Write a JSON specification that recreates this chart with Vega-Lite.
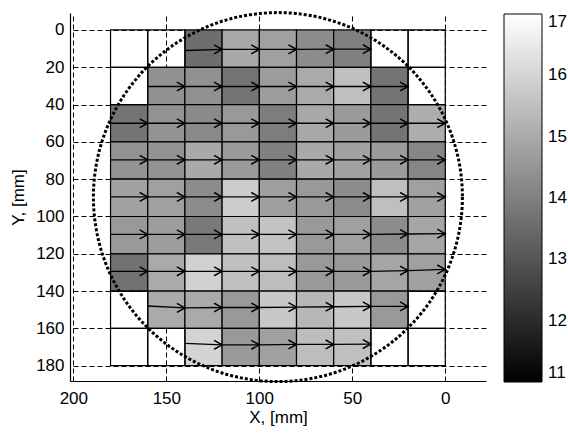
{
  "$schema": "https://vega.github.io/schema/vega-lite/v6.json",
  "width": 416,
  "height": 368,
  "autosize": {"type": "none"},
  "padding": {"left": 70, "top": 13, "right": 82, "bottom": 53},
  "background": "white",
  "config": {
    "view": {"stroke": null},
    "font": "Liberation Sans",
    "axis": {
      "grid": true, "gridColor": "#000000", "gridDash": [5, 3], "gridWidth": 1, "gridOpacity": 1,
      "domainColor": "#000000", "domainWidth": 1.2, "ticks": false,
      "labelFontSize": 17, "labelColor": "#000000", "labelFont": "Liberation Sans",
      "titleFontSize": 17, "titleFontWeight": "normal", "titleColor": "#000000", "titleFont": "Liberation Sans",
      "labelFlush": false, "labelOverlap": false
    }
  },
  "datasets": {
    "cells": [
      {"x0":180,"x1":160,"y0":0,"y1":20,"v":null},{"x0":160,"x1":140,"y0":0,"y1":20,"v":null},{"x0":140,"x1":120,"y0":0,"y1":20,"v":13.59},{"x0":120,"x1":100,"y0":0,"y1":20,"v":14.95},{"x0":100,"x1":80,"y0":0,"y1":20,"v":14.76},{"x0":80,"x1":60,"y0":0,"y1":20,"v":14.29},{"x0":60,"x1":40,"y0":0,"y1":20,"v":14.01},{"x0":40,"x1":20,"y0":0,"y1":20,"v":null},{"x0":20,"x1":0,"y0":0,"y1":20,"v":null},
      {"x0":180,"x1":160,"y0":20,"y1":40,"v":null},{"x0":160,"x1":140,"y0":20,"y1":40,"v":14.4},{"x0":140,"x1":120,"y0":20,"y1":40,"v":14.4},{"x0":120,"x1":100,"y0":20,"y1":40,"v":13.72},{"x0":100,"x1":80,"y0":20,"y1":40,"v":14.68},{"x0":80,"x1":60,"y0":20,"y1":40,"v":15.0},{"x0":60,"x1":40,"y0":20,"y1":40,"v":15.5},{"x0":40,"x1":20,"y0":20,"y1":40,"v":13.72},{"x0":20,"x1":0,"y0":20,"y1":40,"v":null},
      {"x0":180,"x1":160,"y0":40,"y1":60,"v":13.72},{"x0":160,"x1":140,"y0":40,"y1":60,"v":14.45},{"x0":140,"x1":120,"y0":40,"y1":60,"v":14.25},{"x0":120,"x1":100,"y0":40,"y1":60,"v":14.6},{"x0":100,"x1":80,"y0":40,"y1":60,"v":13.94},{"x0":80,"x1":60,"y0":40,"y1":60,"v":14.95},{"x0":60,"x1":40,"y0":40,"y1":60,"v":14.65},{"x0":40,"x1":20,"y0":40,"y1":60,"v":13.72},{"x0":20,"x1":0,"y0":40,"y1":60,"v":15.07},
      {"x0":180,"x1":160,"y0":60,"y1":80,"v":14.45},{"x0":160,"x1":140,"y0":60,"y1":80,"v":14.45},{"x0":140,"x1":120,"y0":60,"y1":80,"v":14.97},{"x0":120,"x1":100,"y0":60,"y1":80,"v":14.62},{"x0":100,"x1":80,"y0":60,"y1":80,"v":14.0},{"x0":80,"x1":60,"y0":60,"y1":80,"v":14.97},{"x0":60,"x1":40,"y0":60,"y1":80,"v":14.8},{"x0":40,"x1":20,"y0":60,"y1":80,"v":14.65},{"x0":20,"x1":0,"y0":60,"y1":80,"v":14.15},
      {"x0":180,"x1":160,"y0":80,"y1":100,"v":14.82},{"x0":160,"x1":140,"y0":80,"y1":100,"v":14.76},{"x0":140,"x1":120,"y0":80,"y1":100,"v":14.3},{"x0":120,"x1":100,"y0":80,"y1":100,"v":15.8},{"x0":100,"x1":80,"y0":80,"y1":100,"v":14.75},{"x0":80,"x1":60,"y0":80,"y1":100,"v":14.6},{"x0":60,"x1":40,"y0":80,"y1":100,"v":14.3},{"x0":40,"x1":20,"y0":80,"y1":100,"v":15.5},{"x0":20,"x1":0,"y0":80,"y1":100,"v":14.76},
      {"x0":180,"x1":160,"y0":100,"y1":120,"v":14.6},{"x0":160,"x1":140,"y0":100,"y1":120,"v":14.7},{"x0":140,"x1":120,"y0":100,"y1":120,"v":13.85},{"x0":120,"x1":100,"y0":100,"y1":120,"v":15.52},{"x0":100,"x1":80,"y0":100,"y1":120,"v":15.6},{"x0":80,"x1":60,"y0":100,"y1":120,"v":14.6},{"x0":60,"x1":40,"y0":100,"y1":120,"v":14.76},{"x0":40,"x1":20,"y0":100,"y1":120,"v":14.29},{"x0":20,"x1":0,"y0":100,"y1":120,"v":14.88},
      {"x0":180,"x1":160,"y0":120,"y1":140,"v":13.65},{"x0":160,"x1":140,"y0":120,"y1":140,"v":15.0},{"x0":140,"x1":120,"y0":120,"y1":140,"v":15.89},{"x0":120,"x1":100,"y0":120,"y1":140,"v":15.52},{"x0":100,"x1":80,"y0":120,"y1":140,"v":15.45},{"x0":80,"x1":60,"y0":120,"y1":140,"v":14.6},{"x0":60,"x1":40,"y0":120,"y1":140,"v":14.6},{"x0":40,"x1":20,"y0":120,"y1":140,"v":14.88},{"x0":20,"x1":0,"y0":120,"y1":140,"v":14.76},
      {"x0":180,"x1":160,"y0":140,"y1":160,"v":null},{"x0":160,"x1":140,"y0":140,"y1":160,"v":15.0},{"x0":140,"x1":120,"y0":140,"y1":160,"v":15.0},{"x0":120,"x1":100,"y0":140,"y1":160,"v":14.6},{"x0":100,"x1":80,"y0":140,"y1":160,"v":15.71},{"x0":80,"x1":60,"y0":140,"y1":160,"v":15.3},{"x0":60,"x1":40,"y0":140,"y1":160,"v":15.7},{"x0":40,"x1":20,"y0":140,"y1":160,"v":14.6},{"x0":20,"x1":0,"y0":140,"y1":160,"v":null},
      {"x0":180,"x1":160,"y0":160,"y1":180,"v":null},{"x0":160,"x1":140,"y0":160,"y1":180,"v":null},{"x0":140,"x1":120,"y0":160,"y1":180,"v":16.0},{"x0":120,"x1":100,"y0":160,"y1":180,"v":14.6},{"x0":100,"x1":80,"y0":160,"y1":180,"v":14.76},{"x0":80,"x1":60,"y0":160,"y1":180,"v":15.45},{"x0":60,"x1":40,"y0":160,"y1":180,"v":15.52},{"x0":40,"x1":20,"y0":160,"y1":180,"v":null},{"x0":20,"x1":0,"y0":160,"y1":180,"v":null}
    ],
    "arrows": [
      {"xa":140,"xb":120,"ya":11.0,"yb":10.4},{"xa":120,"xb":100,"ya":10.4,"yb":10.4},{"xa":100,"xb":80,"ya":10.4,"yb":10.4},{"xa":80,"xb":60,"ya":10.4,"yb":10.3},{"xa":60,"xb":40,"ya":10.3,"yb":10.3},
      {"xa":160,"xb":140,"ya":30.3,"yb":30.3},{"xa":140,"xb":120,"ya":30.3,"yb":30.3},{"xa":120,"xb":100,"ya":30.3,"yb":30.3},{"xa":100,"xb":80,"ya":30.3,"yb":30.3},{"xa":80,"xb":60,"ya":30.3,"yb":30.3},{"xa":60,"xb":40,"ya":30.3,"yb":30.3},{"xa":40,"xb":20,"ya":30.3,"yb":30.3},
      {"xa":180,"xb":160,"ya":50,"yb":50},{"xa":160,"xb":140,"ya":50,"yb":50},{"xa":140,"xb":120,"ya":50,"yb":50},{"xa":120,"xb":100,"ya":50,"yb":50},{"xa":100,"xb":80,"ya":50,"yb":50},{"xa":80,"xb":60,"ya":50,"yb":50},{"xa":60,"xb":40,"ya":50,"yb":50},{"xa":40,"xb":20,"ya":50,"yb":50},{"xa":20,"xb":0,"ya":50,"yb":50},
      {"xa":180,"xb":160,"ya":69.6,"yb":69.6},{"xa":160,"xb":140,"ya":69.6,"yb":69.6},{"xa":140,"xb":120,"ya":69.6,"yb":69.6},{"xa":120,"xb":100,"ya":69.6,"yb":69.6},{"xa":100,"xb":80,"ya":69.6,"yb":69.6},{"xa":80,"xb":60,"ya":69.6,"yb":69.6},{"xa":60,"xb":40,"ya":69.6,"yb":69.6},{"xa":40,"xb":20,"ya":69.6,"yb":69.6},{"xa":20,"xb":0,"ya":69.6,"yb":69.6},
      {"xa":180,"xb":160,"ya":89.5,"yb":89.5},{"xa":160,"xb":140,"ya":89.5,"yb":89.5},{"xa":140,"xb":120,"ya":89.5,"yb":89.5},{"xa":120,"xb":100,"ya":89.5,"yb":89.5},{"xa":100,"xb":80,"ya":89.5,"yb":89.5},{"xa":80,"xb":60,"ya":89.5,"yb":89.5},{"xa":60,"xb":40,"ya":89.5,"yb":89.5},{"xa":40,"xb":20,"ya":89.5,"yb":89.5},{"xa":20,"xb":0,"ya":89.5,"yb":89.5},
      {"xa":180,"xb":160,"ya":109.6,"yb":109.6},{"xa":160,"xb":140,"ya":109.6,"yb":109.6},{"xa":140,"xb":120,"ya":109.6,"yb":109.6},{"xa":120,"xb":100,"ya":109.6,"yb":109.6},{"xa":100,"xb":80,"ya":109.6,"yb":109.6},{"xa":80,"xb":60,"ya":109.6,"yb":109.6},{"xa":60,"xb":40,"ya":109.6,"yb":109.6},{"xa":40,"xb":20,"ya":109.6,"yb":109.4},{"xa":20,"xb":0,"ya":109.4,"yb":109.2},
      {"xa":180,"xb":160,"ya":129.4,"yb":129.4},{"xa":160,"xb":140,"ya":129.4,"yb":129.4},{"xa":140,"xb":120,"ya":129.4,"yb":129.4},{"xa":120,"xb":100,"ya":129.4,"yb":129.4},{"xa":100,"xb":80,"ya":129.4,"yb":129.4},{"xa":80,"xb":60,"ya":129.4,"yb":129.4},{"xa":60,"xb":40,"ya":129.4,"yb":129.4},{"xa":40,"xb":20,"ya":129.4,"yb":129.0},{"xa":20,"xb":0,"ya":129.0,"yb":128.4},
      {"xa":160,"xb":140,"ya":148.0,"yb":149.0},{"xa":140,"xb":120,"ya":149.0,"yb":148.8},{"xa":120,"xb":100,"ya":148.8,"yb":148.8},{"xa":100,"xb":80,"ya":148.8,"yb":148.6},{"xa":80,"xb":60,"ya":148.6,"yb":148.4},{"xa":60,"xb":40,"ya":148.4,"yb":148.2},{"xa":40,"xb":20,"ya":148.2,"yb":148.2},
      {"xa":140,"xb":120,"ya":168.0,"yb":168.8},{"xa":120,"xb":100,"ya":168.8,"yb":168.8},{"xa":100,"xb":80,"ya":168.8,"yb":168.6},{"xa":80,"xb":60,"ya":168.6,"yb":168.6},{"xa":60,"xb":40,"ya":168.6,"yb":168.4}
    ],
    "wafer": [{"cx": 90, "cy": 89.6}]
  },
  "layer": [
    {
      "data": {"name": "cells"},
      "transform": [{"filter": "datum.v != null"}],
      "mark": {"type": "rect", "stroke": "#000000", "strokeWidth": 1.2},
      "encoding": {
        "x": {"field": "x0", "type": "quantitative", "title": "X, [mm]",
              "scale": {"domain": [-21.9, 201.8], "reverse": true, "nice": false, "zero": false},
              "axis": {"values": [200, 150, 100, 50, 0], "labelPadding": 9, "titlePadding": 3}},
        "x2": {"field": "x1"},
        "y": {"field": "y0", "type": "quantitative", "title": "Y, [mm]",
              "scale": {"domain": [-9.1, 188.2], "reverse": true, "nice": false, "zero": false},
              "axis": {"values": [0, 20, 40, 60, 80, 100, 120, 140, 160, 180], "labelPadding": 6, "titlePadding": 8}},
        "y2": {"field": "y1"},
        "color": {"field": "v", "type": "quantitative",
                  "scale": {"domain": [11, 17], "range": ["#000000", "#ffffff"], "interpolate": "rgb"},
                  "legend": {"orient": "none", "legendX": 434, "legendY": 1, "direction": "vertical", "title": null,
                             "gradientLength": 368, "gradientThickness": 38, "gradientStrokeColor": "#000000", "gradientStrokeWidth": 1,
                             "values": [11, 12, 13, 14, 15, 16, 17], "labelFontSize": 17, "labelOffset": 6, "labelColor": "#000000",
                             "labelBaseline": "middle", "labelOverlap": false, "padding": 0, "labelFont": "Liberation Sans"}}
      }
    },
    {
      "data": {"name": "cells"},
      "transform": [{"filter": "datum.v == null"}],
      "mark": {"type": "rect", "fill": "transparent", "stroke": "#000000", "strokeWidth": 1.2},
      "encoding": {
        "x": {"field": "x0", "type": "quantitative", "title": "X, [mm]", "scale": {"domain": [-21.9, 201.8], "reverse": true, "nice": false, "zero": false}},
        "x2": {"field": "x1"},
        "y": {"field": "y0", "type": "quantitative", "title": "Y, [mm]", "scale": {"domain": [-9.1, 188.2], "reverse": true, "nice": false, "zero": false}},
        "y2": {"field": "y1"}
      }
    },
    {
      "data": {"name": "arrows"},
      "mark": {"type": "rule", "color": "#000000", "strokeWidth": 1.3},
      "encoding": {
        "x": {"field": "xa", "type": "quantitative", "title": "X, [mm]", "scale": {"domain": [-21.9, 201.8], "reverse": true, "nice": false, "zero": false}},
        "x2": {"field": "xb"},
        "y": {"field": "ya", "type": "quantitative", "title": "Y, [mm]", "scale": {"domain": [-9.1, 188.2], "reverse": true, "nice": false, "zero": false}},
        "y2": {"field": "yb"}
      }
    },
    {
      "data": {"name": "arrows"},
      "mark": {"type": "point", "shape": "M-1,-0.55L0,0L-1,0.55", "size": 260, "filled": false, "stroke": "#000000", "strokeWidth": 1.5, "opacity": 1},
      "encoding": {
        "x": {"field": "xb", "type": "quantitative", "title": "X, [mm]", "scale": {"domain": [-21.9, 201.8], "reverse": true, "nice": false, "zero": false}},
        "y": {"field": "yb", "type": "quantitative", "title": "Y, [mm]", "scale": {"domain": [-9.1, 188.2], "reverse": true, "nice": false, "zero": false}}
      }
    },
    {
      "data": {"name": "wafer"},
      "mark": {"type": "point", "shape": "circle", "size": 136161, "filled": false, "stroke": "#000000", "strokeWidth": 3, "strokeDash": [3, 2], "opacity": 1},
      "encoding": {
        "x": {"field": "cx", "type": "quantitative", "title": "X, [mm]", "scale": {"domain": [-21.9, 201.8], "reverse": true, "nice": false, "zero": false}},
        "y": {"field": "cy", "type": "quantitative", "title": "Y, [mm]", "scale": {"domain": [-9.1, 188.2], "reverse": true, "nice": false, "zero": false}}
      }
    }
  ]
}
